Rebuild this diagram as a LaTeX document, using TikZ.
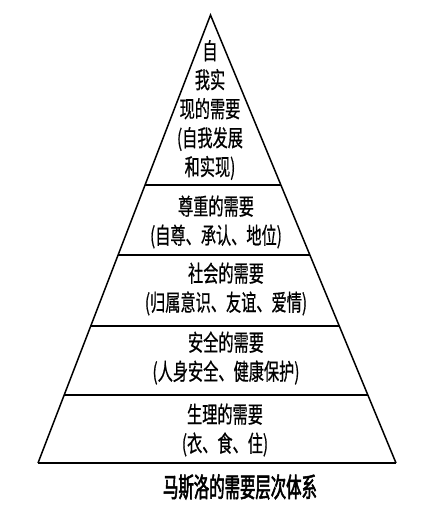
\documentclass[tikz,border=0pt]{standalone}
\usepackage{fontspec}
\usetikzlibrary{calc}
\newfontfamily\cjk[FakeStretch=0.66,FakeBold=0.6]{Noto Sans CJK SC}
\newfontfamily\cjkcap[FakeStretch=0.57,FakeBold=2]{Noto Sans CJK SC}
\begin{document}
\begin{tikzpicture}[x=1pt,y=-1pt,
  edge/.style={line width=1.5pt, line join=miter},
  tier/.style={line width=2pt},
  lbl/.style={font=\cjk\fontsize{23}{29}\selectfont, align=center, inner sep=0pt},
  captext/.style={font=\cjkcap\fontsize{27}{27}\selectfont, inner sep=0pt}]
\fill[white] (0,0) rectangle (433,530);
\useasboundingbox (0,0) rectangle (433,530);
\coordinate (A) at (210.5,15);
\coordinate (BL) at (38,463);
\coordinate (BR) at (396,463);
\coordinate (L1) at ($(A)!0.3795!(BL)$);
\coordinate (R1) at ($(A)!0.3795!(BR)$);
\coordinate (L2) at ($(A)!0.5357!(BL)$);
\coordinate (R2) at ($(A)!0.5357!(BR)$);
\coordinate (L3) at ($(A)!0.6942!(BL)$);
\coordinate (R3) at ($(A)!0.6942!(BR)$);
\coordinate (L4) at ($(A)!0.8482!(BL)$);
\coordinate (R4) at ($(A)!0.8482!(BR)$);
\draw[edge] (BL) -- (A) -- (BR);
\draw[tier] (BL) -- (BR);
\draw[tier] (L1) -- (R1);
\draw[tier] (L2) -- (R2);
\draw[tier] (L3) -- (R3);
\draw[tier] (L4) -- (R4);
\node[lbl] (t1) at (210,110) {自\\我实\\现的需要\\(自我发展\\和实现)};
\node[lbl] (t2) at (216,222) {尊重的需要\\(自尊、承认、地位)};
\node[lbl] (t3) at (226,289) {社会的需要\\(归属意识、友谊、爱情)};
\node[lbl] (t4) at (226,358) {安全的需要\\(人身安全、健康保护)};
\node[lbl] (t5) at (225,430) {生理的需要\\(衣、食、住)};
\node[captext] (c) at (240,487) {马斯洛的需要层次体系};
\end{tikzpicture}
\end{document}
